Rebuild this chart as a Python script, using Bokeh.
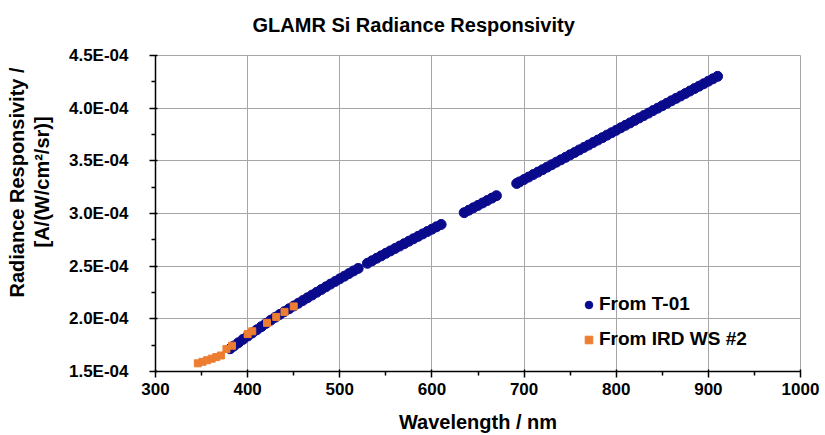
import math
import numpy as np
from bokeh.plotting import figure
from bokeh.models import (Range1d, FixedTicker, CustomJSTickFormatter,
                          Legend, LegendItem, Title, ColumnDataSource)
from bokeh.embed import file_html
from bokeh.resources import INLINE

# ---- data ----
t01_wavelength = [381, 385, 390, 395, 400, 405, 410, 415, 420, 425, 430, 435, 440, 445,
                  450, 455, 460, 465, 470, 475, 480, 485, 490, 495, 500, 505, 510, 515, 520,
                  530, 535, 540, 545, 550, 555, 560, 565, 570, 575, 580, 585, 590, 595,
                  600, 605, 610,
                  635, 640, 645, 650, 655, 660, 665, 670,
                  692, 695, 700, 705, 710, 715, 720, 725, 730, 735, 740, 745, 750, 755,
                  760, 765, 770, 775, 780, 785, 790, 795, 800, 805, 810, 815, 820, 825,
                  830, 835, 840, 845, 850, 855, 860, 865, 870, 875, 880, 885, 890, 895,
                  900, 905, 910]
t01_resp_e4 = [1.716, 1.742, 1.773, 1.805, 1.836, 1.866, 1.896, 1.926, 1.957, 1.987, 2.015,
               2.042, 2.069, 2.096, 2.122, 2.148, 2.174, 2.200, 2.226, 2.252, 2.278, 2.304,
               2.330, 2.355, 2.380, 2.405, 2.430, 2.455, 2.479,
               2.527, 2.551, 2.575, 2.598, 2.622, 2.645, 2.668, 2.691, 2.714, 2.737, 2.760,
               2.783, 2.806, 2.829, 2.851, 2.874, 2.896,
               3.008, 3.031, 3.054, 3.077, 3.100, 3.123, 3.146, 3.169,
               3.285, 3.300, 3.323, 3.346, 3.370, 3.393, 3.416, 3.440, 3.463, 3.487, 3.510,
               3.533, 3.557, 3.580, 3.604, 3.627, 3.650, 3.674, 3.697, 3.720, 3.744, 3.767,
               3.790, 3.814, 3.837, 3.860, 3.884, 3.907, 3.930, 3.953, 3.977, 4.000, 4.023,
               4.046, 4.070, 4.093, 4.116, 4.139, 4.163, 4.186, 4.209, 4.232, 4.256, 4.279,
               4.302]

ird_wavelength = [346, 351, 356, 361, 366, 371, 377, 383, 400, 405, 421, 431, 440, 450]
ird_resp_e4 = [1.578, 1.592, 1.607, 1.622, 1.637, 1.652, 1.714, 1.745, 1.855, 1.882,
               1.962, 2.018, 2.066, 2.118]

series_labels = ["From T-01", "From IRD WS #2"]

x_ticks = [300, 400, 500, 600, 700, 800, 900, 1000]
x_minor_ticks = [350, 450, 550, 650, 750, 850, 950]
y_ticks = [1.5e-4, 2.0e-4, 2.5e-4, 3.0e-4, 3.5e-4, 4.0e-4, 4.5e-4]
y_minor_ticks = [1.75e-4, 2.25e-4, 2.75e-4, 3.25e-4, 3.75e-4, 4.25e-4]

FONT = "Liberation Sans"

src_t01 = ColumnDataSource(dict(x=t01_wavelength, y=np.array(t01_resp_e4) * 1e-4))
src_ird = ColumnDataSource(dict(x=ird_wavelength, y=np.array(ird_resp_e4) * 1e-4))

X0, X1, Y0, Y1 = 300, 1000, 1.5e-4, 4.5e-4
p = figure(width=825, height=435, output_backend="svg", toolbar_location=None,
           x_range=Range1d(X0, X1), y_range=Range1d(Y0, Y1),
           min_border_left=155, min_border_right=25, min_border_top=55,
           min_border_bottom=64)
p.background_fill_color = "white"
p.border_fill_color = "white"
p.outline_line_color = "#a6a6a6"
p.outline_line_width = 1

# spacer between frame and main title (keeps the title high without moving the frame)
p.add_layout(Title(text=" ", text_font_size="1px", standoff=17), "above")

# main title (outermost in the above panel)
p.title.text = "GLAMR Si Radiance Responsivity"
p.title.text_font = FONT
p.title.text_font_size = "20px"
p.title.text_font_style = "bold"
p.title.text_color = "black"
p.title.align = "left"
p.title.offset = 97
p.title.standoff = 0

# grids
for g in (p.xgrid, p.ygrid):
    g.grid_line_color = "#a6a6a6"
    g.grid_line_width = 1

# axes
p.xaxis.ticker = FixedTicker(ticks=x_ticks, minor_ticks=x_minor_ticks)
p.yaxis.ticker = FixedTicker(ticks=y_ticks, minor_ticks=y_minor_ticks)
p.yaxis.formatter = CustomJSTickFormatter(code="""
const s = tick.toExponential(1);
const parts = s.split('e');
const n = parseInt(parts[1]);
const a = Math.abs(n);
return parts[0] + 'E' + (n < 0 ? '-' : '+') + (a < 10 ? '0' + a : '' + a);
""")
for ax in (p.xaxis[0], p.yaxis[0]):
    ax.axis_line_color = "black"
    ax.axis_line_width = 1.5
    ax.major_tick_line_color = "black"
    ax.minor_tick_line_color = "black"
    ax.major_tick_line_width = 1.5
    ax.minor_tick_line_width = 1.5
    ax.major_tick_in = 2
    ax.major_tick_out = 6
    ax.minor_tick_in = 0
    ax.minor_tick_out = 4
    ax.major_label_text_font = FONT
    ax.major_label_text_font_size = "17px"
    ax.major_label_text_font_style = "bold"
    ax.major_label_text_color = "black"
p.xaxis.major_label_standoff = 5
p.yaxis.major_label_standoff = 21

p.xaxis.axis_label = "Wavelength / nm"
p.xaxis.axis_label_text_font = FONT
p.xaxis.axis_label_text_font_size = "20px"
p.xaxis.axis_label_text_font_style = "bold"
p.xaxis.axis_label_text_color = "black"
p.xaxis.axis_label_standoff = 13

# y axis title: spacer, then two lines as titles in the left panel (nearest first)
p.add_layout(Title(text=" ", text_font_size="1px", standoff=9), "left")
y_title_lines = ["Radiance Responsivity /", "[A/(W/cm\u00b2/sr)]"]
y_title_offsets = [74, 124]
y_title_standoffs = [0, 2]
for i in (1, 0):
    p.add_layout(Title(text=y_title_lines[i], align="left", offset=y_title_offsets[i],
                       standoff=y_title_standoffs[i], text_font=FONT,
                       text_font_size="20px", text_font_style="bold",
                       text_color="black"), "left")

# data
r1 = p.scatter("x", "y", source=src_t01, marker="circle", size=10,
               fill_color="#0a0a8c", line_color="#0a0a8c")
r2 = p.scatter("x", "y", source=src_ird, marker="square", size=7,
               fill_color="#ed7d31", line_color="#ed7d31")

legend = Legend(items=[LegendItem(label=series_labels[0], renderers=[r1]),
                       LegendItem(label=series_labels[1], renderers=[r2])],
                location=(414, 11), background_fill_alpha=0, border_line_alpha=0,
                glyph_width=19, glyph_height=19, label_standoff=1, spacing=13,
                padding=10, label_text_font=FONT, label_text_font_size="19px",
                label_text_font_style="bold", label_text_color="black")
p.add_layout(legend)

open("out.html", "w").write(file_html(p, INLINE))
